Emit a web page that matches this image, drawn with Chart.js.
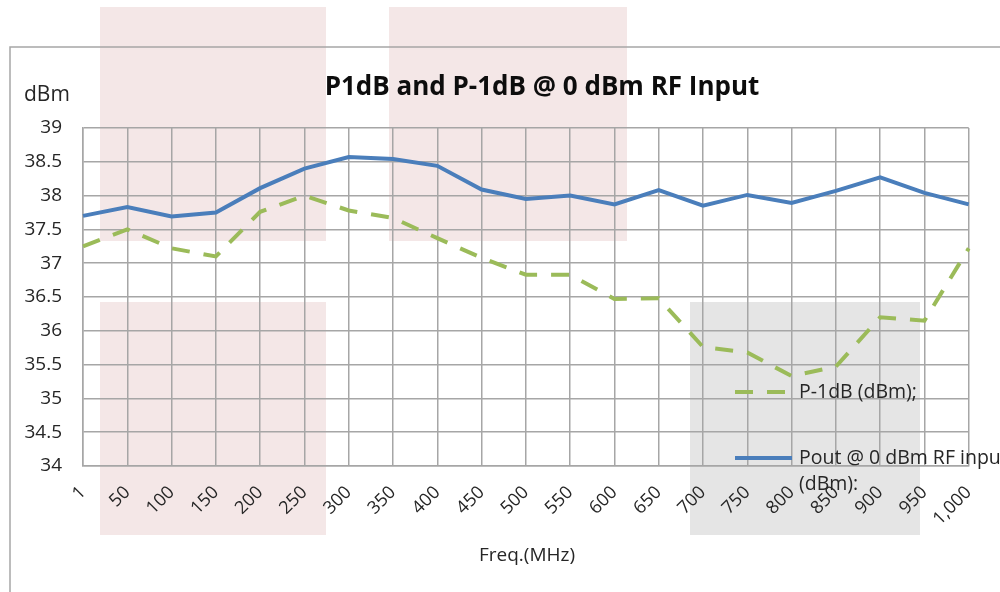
<!DOCTYPE html>
<html>
<head>
<meta charset="utf-8">
<script src="https://cdn.jsdelivr.net/npm/chart.js@4/dist/chart.umd.min.js"></script>
<style>
  html, body { margin: 0; padding: 0; background: #fff; }
  #wrap { width: 1000px; height: 592px; }
</style>
</head>
<body>
<div id="wrap"><canvas id="chart" width="1000" height="592"></canvas></div>
<script>
const freqs = ['1', '50', '100', '150', '200', '250', '300', '350', '400', '450', '500',
  '550', '600', '650', '700', '750', '800', '850', '900', '950', '1,000'];
const pout = [37.70, 37.83, 37.69, 37.75, 38.11, 38.40, 38.57, 38.54, 38.44, 38.09, 37.95,
  38.00, 37.87, 38.08, 37.85, 38.01, 37.89, 38.07, 38.27, 38.04, 37.87];
const p1db = [37.25, 37.50, 37.22, 37.10, 37.76, 38.00, 37.78, 37.67, 37.37, 37.08, 36.83,
  36.83, 36.47, 36.48, 35.76, 35.68, 35.33, 35.47, 36.20, 36.15, 37.22];
const yTicks = [34, 34.5, 35, 35.5, 36, 36.5, 37, 37.5, 38, 38.5, 39];

const poutLegend = ['Pout @ 0 dBm RF input', '(dBm):'];
const p1dbLegend = ['P-1dB (dBm);'];

const FONT = "'Open Sans', sans-serif";
const TEXT = '#262626';
const GRID = '#a6a6a6';
const BLUE = '#4a7ebb';
const GREEN = '#9bbb59';

// shaded boxes sitting behind the picture
const boxes = [
  { x: 100, y: 7, w: 226, h: 234, c: '#f4e7e7' },
  { x: 389, y: 7, w: 238, h: 234, c: '#f4e7e7' },
  { x: 100, y: 302, w: 226, h: 233, c: '#f4e7e7' },
  { x: 690, y: 302, w: 230, h: 233, c: '#e5e5e5' },
];

const decor = {
  id: 'decor',
  beforeDraw(chart) {
    const ctx = chart.ctx;
    ctx.save();
    ctx.fillStyle = '#fff';
    ctx.fillRect(0, 0, chart.width, chart.height);
    boxes.forEach(b => {
      ctx.fillStyle = b.c;
      ctx.fillRect(b.x, b.y, b.w, b.h);
    });
    ctx.strokeStyle = GRID;
    ctx.lineWidth = 1.5;
    ctx.beginPath();
    ctx.moveTo(10, chart.height + 2);
    ctx.lineTo(10, 47);
    ctx.lineTo(chart.width + 2, 47);
    ctx.stroke();
    ctx.restore();
  },
  afterDraw(chart) {
    const ctx = chart.ctx;
    ctx.save();
    ctx.textBaseline = 'middle';

    ctx.fillStyle = '#0d0d0d';
    ctx.font = `bold 26px ${FONT}`;
    ctx.textAlign = 'center';
    ctx.fillText('P1dB and P-1dB @ 0 dBm RF Input', 542, 88);

    ctx.fillStyle = TEXT;
    ctx.font = `21px ${FONT}`;
    ctx.textAlign = 'left';
    ctx.fillText('dBm', 24, 95);

    ctx.font = `19px ${FONT}`;
    ctx.textAlign = 'center';
    ctx.fillText('Freq.(MHz)', 527, 556);

    // legend
    const items = [
      { ds: chart.data.datasets[1], lines: p1dbLegend, y: 392 },
      { ds: chart.data.datasets[0], lines: poutLegend, y: 458 },
    ];
    items.forEach(it => {
      ctx.strokeStyle = it.ds.borderColor;
      ctx.lineWidth = it.ds.borderWidth;
      ctx.setLineDash(it.ds.borderDash || []);
      ctx.beginPath();
      ctx.moveTo(735, it.y);
      ctx.lineTo(792, it.y);
      ctx.stroke();
      ctx.setLineDash([]);
      ctx.fillStyle = TEXT;
      ctx.font = `19.5px ${FONT}`;
      ctx.textAlign = 'left';
      it.lines.forEach((t, i) => ctx.fillText(t, 799, it.y + i * 26));
    });
    ctx.restore();
  }
};

new Chart(document.getElementById('chart'), {
  type: 'line',
  data: {
    labels: freqs,
    datasets: [
      {
        label: poutLegend.join(' '),
        data: pout,
        borderColor: BLUE,
        borderWidth: 4,
        pointRadius: 0,
        tension: 0,
        fill: false,
      },
      {
        label: p1dbLegend.join(' '),
        data: p1db,
        borderColor: GREEN,
        borderWidth: 4,
        borderDash: [18, 14],
        pointRadius: 0,
        tension: 0,
        fill: false,
      },
    ],
  },
  options: {
    responsive: false,
    animation: false,
    layout: { padding: { top: 128, right: 28, bottom: 0, left: 0 } },
    plugins: {
      legend: { display: false },
      title: { display: false },
      tooltip: { enabled: false },
    },
    scales: {
      x: {
        offset: false,
        grid: { color: GRID, lineWidth: 1.5, drawTicks: false },
        border: { color: GRID, width: 1.5 },
        ticks: {
          autoSkip: false,
          minRotation: 45,
          maxRotation: 45,
          padding: 16,
          color: TEXT,
          font: { family: FONT, size: 18 },
        },
        afterFit(scale) { scale.height = 126; },
      },
      y: {
        min: 34,
        max: 39,
        grid: { color: GRID, lineWidth: 1.5, drawTicks: false },
        border: { color: GRID, width: 1.5 },
        afterBuildTicks(scale) { scale.ticks = yTicks.map(v => ({ value: v })); },
        ticks: {
          padding: 21,
          color: TEXT,
          font: { family: FONT, size: 19 },
          callback: v => String(v),
        },
        afterFit(scale) { scale.width = 83; },
      },
    },
  },
  plugins: [decor],
});
</script>
</body>
</html>
